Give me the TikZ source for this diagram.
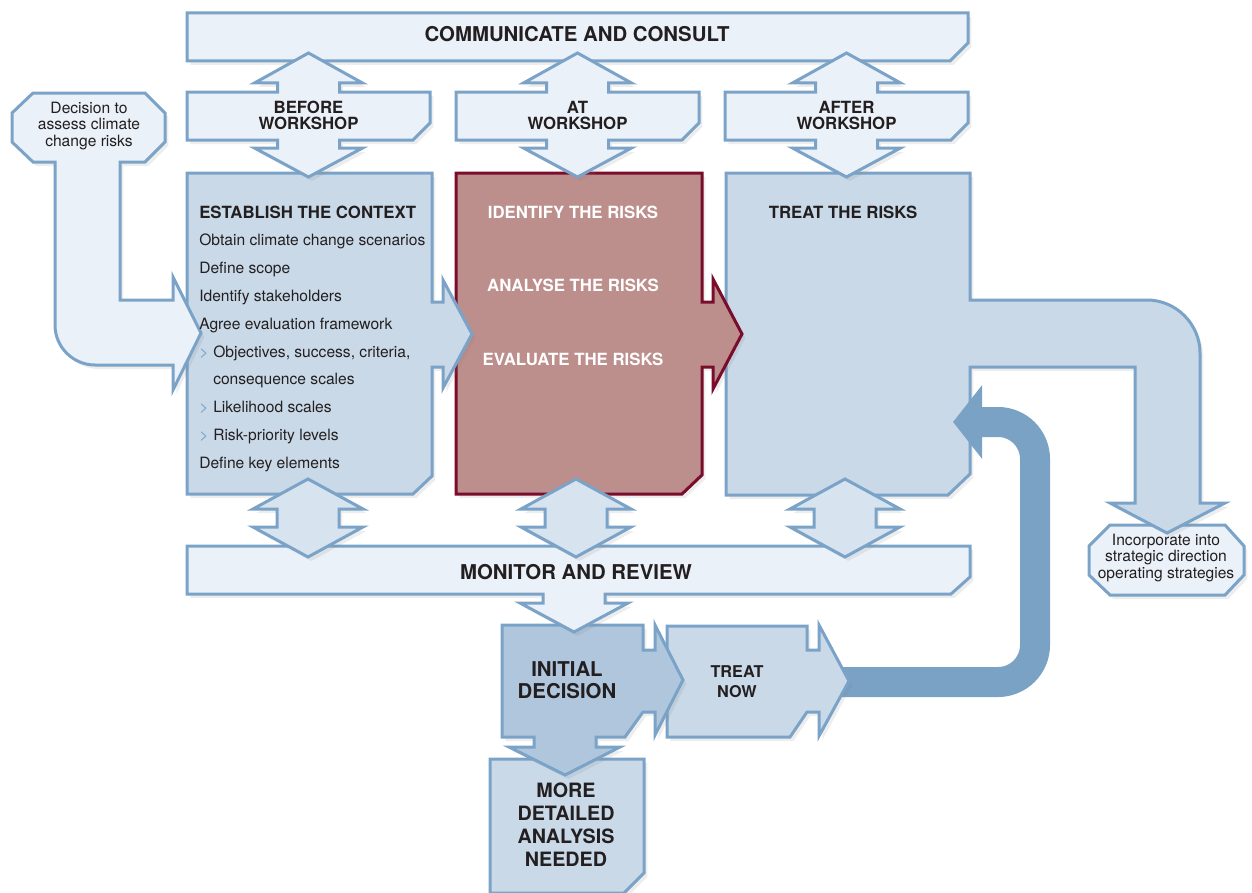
\documentclass[tikz,border=0pt]{standalone}
\usepackage{fontspec}
\setmainfont{TeX Gyre Heros}
\usetikzlibrary{arrows.meta,shadows}
\definecolor{cPale}{RGB}{235,241,248}
\definecolor{cMid}{RGB}{201,217,232}
\definecolor{cDeep}{RGB}{175,198,221}
\definecolor{cLink}{RGB}{215,227,239}
\definecolor{cEdge}{RGB}{123,163,199}
\definecolor{cLoop}{RGB}{122,162,197}
\definecolor{cRose}{RGB}{188,142,140}
\definecolor{cWine}{RGB}{122,12,44}
\definecolor{cText}{RGB}{35,31,32}
\newcommand{\chev}{\makebox[10.5pt][l]{\textcolor{cEdge}{>}}}
\newcommand{\indnt}{\hspace*{10.5pt}}
\tikzset{
  softshade/.style={drop shadow={opacity=0.14,shadow xshift=2.5pt,shadow yshift=-3pt}},
  basebox/.style={softshade,draw=cEdge,line width=2.25pt,line join=miter},
  palebox/.style={basebox,fill=cPale},
  midbox/.style={basebox,fill=cMid},
  deepbox/.style={basebox,fill=cDeep},
  linkarr/.style={basebox,fill=cLink},
  riskbox/.style={softshade,draw=cWine,fill=cRose,line width=2.25pt,line join=miter},
  loopline/.style={draw=cLoop,line width=22.5pt,rounded corners=27.75pt,
                   -{Triangle[length=21.75pt,width=54pt]}},
  headtxt/.style={font=\fontsize{15.3pt}{16.7pt}\selectfont\bfseries,text=cText,align=center},
  stagetxt/.style={font=\fontsize{12.6pt}{12pt}\selectfont\bfseries,text=cText,align=center},
  risktxt/.style={font=\fontsize{12.6pt}{12pt}\selectfont\bfseries,text=white},
  listtxt/.style={font=\fontsize{11.7pt}{14pt}\selectfont,text=cText,anchor=base west,inner sep=0pt},
  notetxt/.style={font=\fontsize{11.7pt}{12.3pt}\selectfont,text=cText,align=center}
}
\begin{document}
\begin{tikzpicture}[x=0.75pt,y=-0.75pt]
  \useasboundingbox (0,0) rectangle (1252,892);

  \filldraw[palebox] (187,13) -- (968,13) -- (968,43) -- (950,61) -- (187,61) -- cycle;
  \filldraw[palebox] (1110,525) -- (1225,525) -- (1244,546) -- (1244,575) -- (1225,595)
      -- (1110,595) -- (1089,575) -- (1089,546) -- cycle;
  \filldraw[midbox] (726,173) -- (970,173) -- (970,300) -- (1147,300)
      .. controls (1176,300) and (1200,324) .. (1200,353) -- (1200,503) -- (1225,503)
      -- (1167,533) -- (1110,503) -- (1135,503) -- (1135,367) -- (970,367) -- (970,474)
      -- (948,495) -- (726,495) -- cycle;

  \coordinate (nowtip) at (840,682);
  \coordinate (treatin) at (953,422);
  \draw[loopline] (nowtip) -- (1035,682) -- (1035,422) -- (treatin);

  \filldraw[riskbox] (456,173) -- (702,173) -- (702,302) -- (713,302) -- (713,279)
      -- (742,334) -- (713,389) -- (713,367) -- (702,367) -- (702,475) -- (682,494)
      -- (456,494) -- cycle;
  \filldraw[midbox] (187,173) -- (432,173) -- (432,302) -- (443,302) -- (443,280)
      -- (472,334) -- (443,388) -- (443,367) -- (432,367) -- (432,476) -- (413,494)
      -- (187,494) -- cycle;
  \filldraw[palebox] (33,93) -- (145,93) -- (165,113) -- (165,142) -- (145,162) -- (120,162)
      -- (120,300) -- (173,300) -- (173,277) -- (201,333) -- (173,390) -- (173,365)
      -- (95,365) .. controls (73,365) and (55,347) .. (55,325) -- (55,162) -- (33,162)
      -- (12,142) -- (12,113) -- cycle;

  \foreach \x/\lbl in {187/BEFORE,456/AT,725/AFTER}{
    \filldraw[palebox] (\x,92) -- ({\x+90.5},92) -- ({\x+90.5},83) -- ({\x+67.5},83)
        -- ({\x+121.5},53) -- ({\x+175.5},83) -- ({\x+152.5},83) -- ({\x+152.5},92)
        -- ({\x+243},92) -- ({\x+243},123) -- ({\x+226},140) -- ({\x+152.5},140)
        -- ({\x+152.5},148) -- ({\x+175.5},148) -- ({\x+121.5},177) -- ({\x+67.5},148)
        -- ({\x+90.5},148) -- ({\x+90.5},140) -- (\x,140) -- cycle;
    \node[stagetxt] (stage\lbl) at ({\x+121.5},115) {\lbl\\WORKSHOP};
  }

  \filldraw[midbox] (490,759) -- (644,759) -- (644,873) -- (624,893) -- (490,893) -- cycle;
  \filldraw[midbox] (667,626) -- (807,626) -- (807,650) -- (819,650) -- (819,625)
      -- (849,681) -- (819,736) -- (819,712) -- (807,712) -- (790,737) -- (667,737) -- cycle;
  \filldraw[deepbox] (502,625) -- (643,625) -- (643,650) -- (655,650) -- (655,625)
      -- (683,680) -- (655,735) -- (655,712) -- (643,712) -- (625,737) -- (596,737)
      -- (596,747) -- (620,747) -- (565,775) -- (509,747) -- (534,747) -- (534,737)
      -- (502,737) -- cycle;
  \filldraw[palebox] (187,546) -- (970,546) -- (970,577) -- (951,594) -- (605,594)
      -- (605,603) -- (628,603) -- (574,632) -- (520,603) -- (543,603) -- (543,594)
      -- (187,594) -- cycle;
  \foreach \c in {308,576,845}
    \filldraw[linkarr] ({\c-31},509) -- ({\c-55},509) -- (\c,479) -- ({\c+55},509)
        -- ({\c+31},509) -- ({\c+31},527) -- ({\c+55},527) -- (\c,557) -- ({\c-55},527)
        -- ({\c-31},527) -- cycle;

  \node[headtxt] (consult) at (577,34) {COMMUNICATE AND CONSULT};
  \node[headtxt] (monitor) at (576,572) {MONITOR AND REVIEW};
  \node[notetxt] (decide) at (89,126) {Decision to\\assess climate\\change risks};
  \node[notetxt] (incorp) at (1166,558) {Incorporate into\\strategic direction\\operating strategies};
  \node[stagetxt,anchor=west,inner sep=0pt] (context) at (199,212) {ESTABLISH THE CONTEXT};
  \foreach \y/\txt in {240/Obtain climate change scenarios,268/Define scope,
      296/Identify stakeholders,324/Agree evaluation framework,
      352/{\chev Objectives, success, criteria,},379/{\indnt consequence scales},
      407/{\chev Likelihood scales},435/{\chev Risk-priority levels},463/Define key elements}
    \node[listtxt] (ctx\y) at (199,{\y+5.5}) {\txt};
  \node[risktxt] (identify) at (573,212) {IDENTIFY THE RISKS};
  \node[risktxt] (analyse) at (573,285) {ANALYSE THE RISKS};
  \node[risktxt] (evaluate) at (573,359) {EVALUATE THE RISKS};
  \node[stagetxt] (treat) at (843,212) {TREAT THE RISKS};
  \node[headtxt] (initial) at (567,680) {INITIAL\\DECISION};
  \node[stagetxt,font=\fontsize{12.2pt}{15pt}\selectfont\bfseries] (treatnow) at (737,682) {TREAT\\NOW};
  \node[headtxt,font=\fontsize{14.8pt}{17.3pt}\selectfont\bfseries] (more) at (566,825) {MORE\\DETAILED\\ANALYSIS\\NEEDED};
\end{tikzpicture}
\end{document}
